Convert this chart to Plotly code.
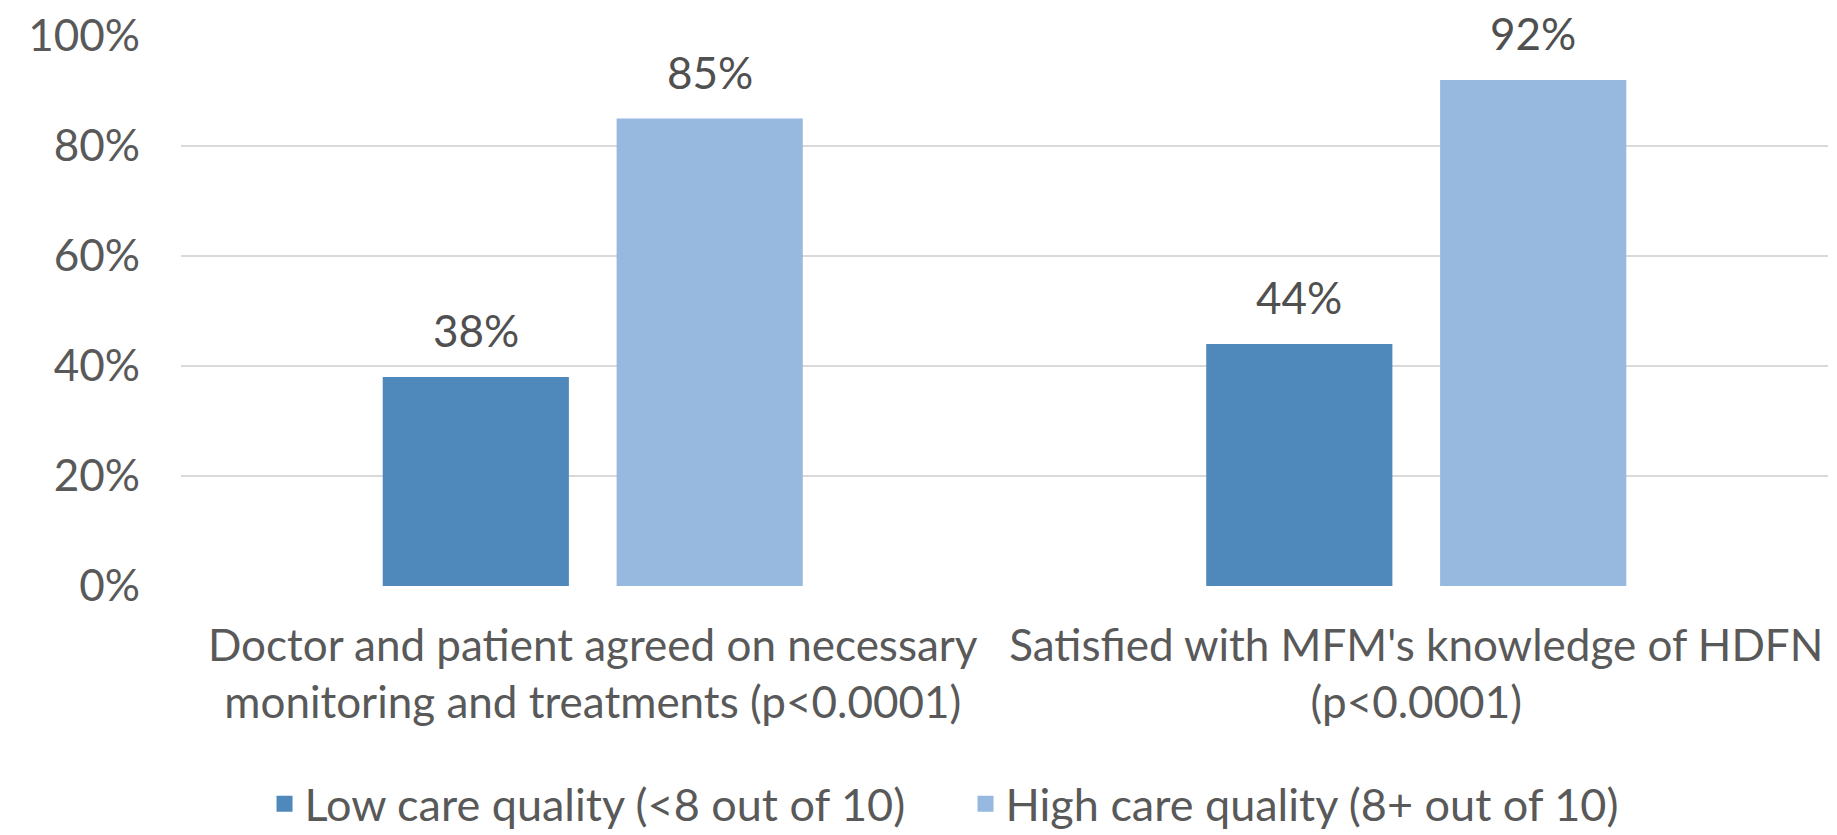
import plotly.graph_objects as go
import numpy as np

categories = [
    "Doctor and patient agreed on necessary<br>monitoring and treatments (p<0.0001)",
    "Satisfied with MFM's knowledge of HDFN<br>(p<0.0001)",
]
series_names = ["Low care quality (<8 out of 10)", "High care quality (8+ out of 10)"]
low_values = [38, 44]
high_values = [85, 92]
y_ticks = [0, 20, 40, 60, 80, 100]
y_tick_labels = [f"{v}%" for v in y_ticks]

colors = ["#4F89BB", "#97B8DF"]
FONT = "Lato"
TXT = "#595959"
FS = 44

BARGAP = 0.432
BARGROUPGAP = 0.204

xpos = np.arange(len(categories))
series = [low_values, high_values]

fig = go.Figure()
for name, vals, col in zip(series_names, series, colors):
    fig.add_trace(go.Bar(x=xpos, y=vals, name=name, marker_color=col,
                         marker_line_width=0, showlegend=False, hoverinfo="skip"))
# legend proxies with larger square swatches
for name, col in zip(series_names, colors):
    fig.add_trace(go.Scatter(x=[None], y=[None], mode="markers", name=name,
                             marker=dict(symbol="square", size=20, color=col)))

n = len(series)
slot = (1 - BARGAP) / n
annotations = []
for k, vals in enumerate(series):
    for i, v in enumerate(vals):
        annotations.append(dict(
            x=xpos[i] + (k - (n - 1) / 2) * slot, y=v, xref="x", yref="y",
            text=f"{v}%", showarrow=False, yanchor="bottom", yshift=19,
            font=dict(family=FONT, size=FS, color="#505050")))

fig.update_layout(
    width=1837, height=835,
    margin=dict(l=181, r=9, t=36, b=249),
    paper_bgcolor="white", plot_bgcolor="white",
    barmode="group", bargap=BARGAP, bargroupgap=BARGROUPGAP,
    font=dict(family=FONT, size=FS, color=TXT),
    showlegend=True,
    legend=dict(orientation="h", xref="container", yref="container",
                x=0.144, xanchor="left", y=0.037, yanchor="middle",
                entrywidth=656, entrywidthmode="pixels",
                font=dict(family=FONT, size=45, color=TXT), itemclick=False,
                borderwidth=0, tracegroupgap=0),
    annotations=annotations,
)
fig.update_xaxes(tickvals=xpos, ticktext=categories, range=[-0.5, len(categories) - 0.5],
                 showgrid=False, zeroline=False, showline=False, ticks="",
                 automargin=False,
                 ticklabelstandoff=30, tickfont=dict(family=FONT, size=FS, color=TXT))
fig.update_yaxes(range=[0, 100], tickvals=y_ticks, ticktext=y_tick_labels,
                 showgrid=True, gridcolor="#D9D9D9", gridwidth=2,
                 zeroline=False, showline=False, ticks="", automargin=False,
                 ticklabelstandoff=40, tickfont=dict(family=FONT, size=FS, color=TXT))

fig.write_html("out.html")
